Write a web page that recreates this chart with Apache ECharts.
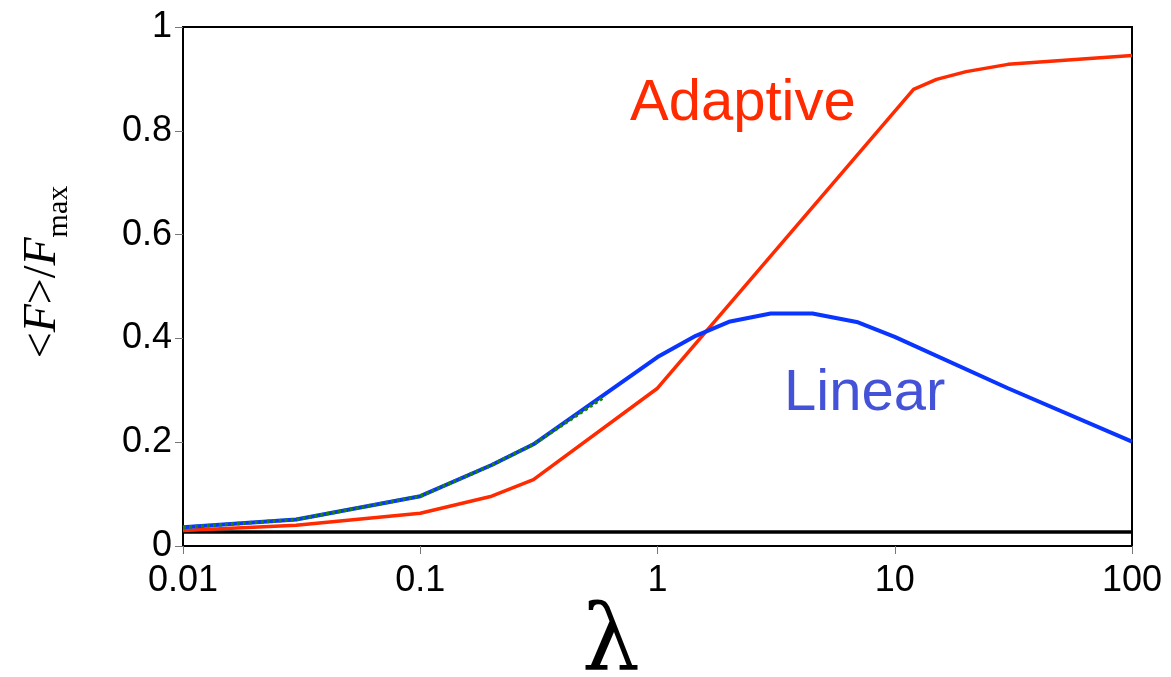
<!DOCTYPE html>
<html>
<head>
<meta charset="utf-8">
<script src="https://cdn.jsdelivr.net/npm/echarts@6/dist/echarts.min.js"></script>
<style>
  html, body { margin: 0; padding: 0; background: #fff; }
  #chart { width: 1171px; height: 677px; }
</style>
</head>
<body>
<div id="chart"></div>
<script>
// data
var adaptiveX = [0.01, 0.03, 0.1, 0.2, 0.3, 1, 12, 15, 20, 30, 100];
var adaptiveY = [0.030, 0.040, 0.063, 0.096, 0.128, 0.304, 0.880, 0.899, 0.914, 0.928, 0.945];

var linearX = [0.01, 0.03, 0.1, 0.2, 0.3, 1, 1.45, 2, 3, 4.5, 7, 10, 30, 100];
var linearY = [0.036, 0.051, 0.096, 0.156, 0.196, 0.364, 0.405, 0.432, 0.448, 0.448, 0.431, 0.403, 0.304, 0.201];

var dottedX = [0.01, 0.03, 0.1, 0.2, 0.3, 0.6];
var dottedY = [0.036, 0.051, 0.096, 0.156, 0.196, 0.288];

var baseX = [0.01, 100];
var baseY = [0.027, 0.027];

var xTicks = [0.01, 0.1, 1, 10, 100];
var yTicks = [0, 0.2, 0.4, 0.6, 0.8, 1];

function pairs(xs, ys) {
  var out = [];
  for (var i = 0; i < xs.length; i++) out.push([xs[i], ys[i]]);
  return out;
}

var dom = document.getElementById("chart");
var myChart = echarts.init(dom);
var option = {
  animation: false,
  backgroundColor: '#fff',
  grid: {
    left: 183, right: 39, top: 27, bottom: 131,
    show: true, borderColor: '#000', borderWidth: 2
  },
  xAxis: {
    type: 'log',
    logBase: 10,
    min: xTicks[0],
    max: xTicks[xTicks.length - 1],
    axisLine: { show: false },
    axisTick: { show: true, length: 8, lineStyle: { color: '#777', width: 1 } },
    splitLine: { show: false },
    axisLabel: {
      margin: 17,
      color: '#000',
      fontFamily: 'Liberation Sans',
      fontSize: 36,
      showMinLabel: true,
      showMaxLabel: true
    }
  },
  yAxis: {
    type: 'value',
    min: yTicks[0],
    max: yTicks[yTicks.length - 1],
    interval: 0.2,
    axisLine: { show: false },
    axisTick: { show: true, length: 8, lineStyle: { color: '#777', width: 1 } },
    splitLine: { show: false },
    axisLabel: {
      margin: 11,
      color: '#000',
      fontFamily: 'Liberation Sans',
      fontSize: 36
    }
  },
  series: [
    {
      name: 'base', type: 'line', data: pairs(baseX, baseY),
      symbol: 'none', lineStyle: { color: '#000', width: 3.5 }
    },
    {
      name: 'Adaptive', type: 'line', data: pairs(adaptiveX, adaptiveY),
      symbol: 'none', lineStyle: { color: '#ff2a00', width: 3.5 }
    },
    {
      name: 'Linear', type: 'line', data: pairs(linearX, linearY),
      symbol: 'none', lineStyle: { color: '#0a35ff', width: 4 }
    },
    {
      name: 'dotted', type: 'line', data: pairs(dottedX, dottedY),
      symbol: 'none', lineStyle: { color: '#17840a', width: 3.5, type: [3, 3] }
    }
  ],
  graphic: [
    {
      type: 'text', x: 630, y: 104, silent: true,
      style: {
        text: 'Adaptive', fill: '#ff2a00',
        font: '58px "Liberation Sans"', align: 'left', verticalAlign: 'middle'
      }
    },
    {
      type: 'text', x: 784, y: 394, silent: true,
      style: {
        text: 'Linear', fill: '#4452d8',
        font: '58px "Liberation Sans"', align: 'left', verticalAlign: 'middle'
      }
    },
    {
      type: 'text', x: 611, y: 646, silent: true,
      style: {
        text: 'λ', fill: '#000',
        font: '92px "DejaVu Serif"', align: 'center', verticalAlign: 'middle'
      }
    },
    {
      type: 'text', x: 43, y: 272, rotation: Math.PI / 2, silent: true,
      style: {
        text: '{n|<}{i|F}{n|>/}{i|F}{s|max}',
        align: 'center', verticalAlign: 'middle', fill: '#000',
        rich: {
          n: { fontFamily: 'Liberation Serif', fontSize: 46, fill: '#000' },
          i: { fontFamily: 'Liberation Serif', fontSize: 46, fontStyle: 'italic', fill: '#000' },
          s: { fontFamily: 'Liberation Serif', fontSize: 30, fill: '#000', padding: [32, 0, 0, 0] }
        }
      }
    }
  ]
};
if (option && typeof option === "object") {
  myChart.setOption(option, true);
}
</script>
</body>
</html>
